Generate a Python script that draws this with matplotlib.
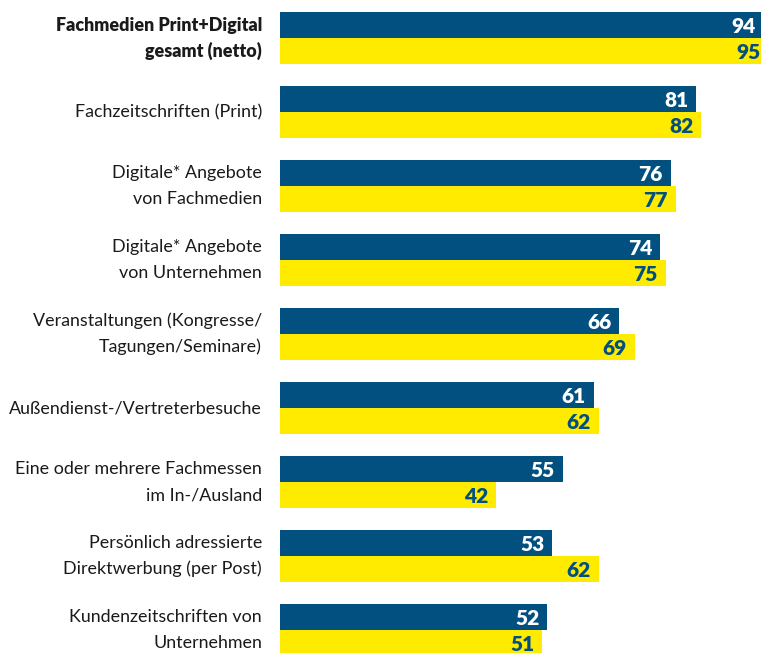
import matplotlib.pyplot as plt
import numpy as np

categories = [
    'Fachmedien Print+Digital\ngesamt (netto)',
    'Fachzeitschriften (Print)',
    'Digitale* Angebote\nvon Fachmedien',
    'Digitale* Angebote\nvon Unternehmen',
    'Veranstaltungen (Kongresse/\nTagungen/Seminare)',
    'Außendienst-/Vertreterbesuche',
    'Eine oder mehrere Fachmessen\nim In-/Ausland',
    'Persönlich adressierte\nDirektwerbung (per Post)',
    'Kundenzeitschriften von\nUnternehmen',
]
blue_vals = [94, 81, 76, 74, 66, 61, 55, 53, 52]
yellow_vals = [95, 82, 77, 75, 69, 62, 42, 62, 51]

blue = '#02507f'
yellow = '#ffeb00'

plt.rcParams['font.family'] = ['Lato', 'DejaVu Sans']

W, H = 761, 653
fig = plt.figure(figsize=(W / 100, H / 100), dpi=100)
ax = fig.add_axes([280 / W, 0, 481 / W, 1])
ax.set_xlim(0, 481 / 5.14)
ax.set_ylim(615 / 74, -38 / 74)
ax.axis('off')

y = np.arange(len(categories))
h = 26 / 74
ax.barh(y - h / 2, blue_vals, height=h, color=blue)
ax.barh(y + h / 2, yellow_vals, height=h, color=yellow)

pad = 8 / 5.14
for i in range(len(categories)):
    ax.text(blue_vals[i] - pad, y[i] - h / 2, str(blue_vals[i]), ha='right', va='center_baseline',
            color='white', fontsize=15, fontweight='heavy')
    ax.text(yellow_vals[i] - pad, y[i] + h / 2, str(yellow_vals[i]), ha='right', va='center_baseline',
            color=blue, fontsize=15, fontweight='heavy')
    lines = categories[i].split('\n')
    weight = 'heavy' if i == 0 else 'normal'
    if len(lines) == 2:
        pos = [y[i] - h / 2 - 0.02, y[i] + h / 2 - 0.02]
    else:
        pos = [y[i] - 0.02]
    for line, yy in zip(lines, pos):
        ax.text(-18 / 5.14, yy, line, ha='right', va='center_baseline', color='#1a1a1a',
                fontsize=12.9, fontweight=weight, clip_on=False)

fig.savefig('out.png', dpi=100)
